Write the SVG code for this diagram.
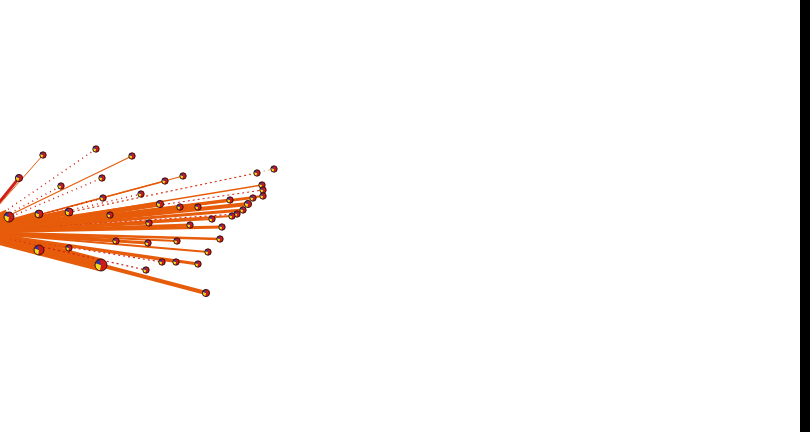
<svg xmlns="http://www.w3.org/2000/svg" width="810" height="432" viewBox="0 0 810 432">
<style>
.e{stroke:#e65c0a;fill:none;stroke-linecap:butt}
.r{stroke:#d0201a;fill:none}
.d{stroke-dasharray:2 3}
.f{stroke-dasharray:1 4}
</style>
<defs>
<g id="pie">
<circle r="1" fill="#cc1a1a"/>
<path d="M0 0 L-0.174 0.985 A1 1 0 0 1 -0.94 -0.342 Z" fill="#f2dc1e"/>
<path d="M0 0 L-0.94 -0.342 A1 1 0 0 1 -0.3 -0.954 Z" fill="#2a3aa0"/>
<circle r="1" fill="none" stroke="#2a0a0a" stroke-width="0.9" vector-effect="non-scaling-stroke"/>
</g>
</defs>
<rect width="810" height="432" fill="#fff"/>
<rect x="800" y="0" width="10" height="432" fill="#000"/>
<g id="connectors">
<line class="r" x1="-25" y1="232" x2="19" y2="178" stroke-width="3"/>
<line class="e" x1="-25" y1="232" x2="43" y2="155" stroke-width="1"/>
<line class="r f" x1="-25" y1="232" x2="96" y2="149" stroke-width="1.5"/>
<line class="e" x1="-25" y1="232" x2="132" y2="156" stroke-width="1.2"/>
<line class="r f" x1="-25" y1="232" x2="61" y2="186" stroke-width="1.5"/>
<line class="r f" x1="-25" y1="232" x2="102" y2="178" stroke-width="1.5"/>
<line class="e" x1="-25" y1="232" x2="165" y2="181" stroke-width="1.5"/>
<line class="e" x1="-25" y1="232" x2="183" y2="176" stroke-width="1.2"/>
<line class="r d" x1="-25" y1="232" x2="257" y2="173" stroke-width="1"/>
<line class="e f" x1="-25" y1="232" x2="274" y2="169" stroke-width="1"/>
<line class="e" x1="-25" y1="232" x2="262" y2="185" stroke-width="1.5"/>
<line class="r d" x1="-25" y1="232" x2="263" y2="190" stroke-width="1"/>
<line class="e" x1="-25" y1="232" x2="263" y2="196" stroke-width="2"/>
<line class="r f" x1="-25" y1="232" x2="141" y2="194" stroke-width="1.5"/>
<line class="r f" x1="-25" y1="232" x2="103" y2="198" stroke-width="1.5"/>
<line class="e" x1="-25" y1="232" x2="9" y2="217" stroke-width="16"/>
<line class="e" x1="-25" y1="232" x2="39" y2="214" stroke-width="6"/>
<line class="e" x1="-25" y1="232" x2="69" y2="212" stroke-width="6"/>
<line class="e" x1="-25" y1="232" x2="160" y2="204" stroke-width="5"/>
<line class="r d" x1="-25" y1="232" x2="180" y2="207" stroke-width="1.2"/>
<line class="e" x1="-25" y1="232" x2="198" y2="207" stroke-width="3"/>
<line class="e" x1="-25" y1="232" x2="230" y2="200" stroke-width="3"/>
<line class="e" x1="-25" y1="232" x2="248" y2="204" stroke-width="4"/>
<line class="e" x1="-25" y1="232" x2="253" y2="198" stroke-width="2"/>
<line class="e" x1="-25" y1="232" x2="243" y2="210" stroke-width="3"/>
<line class="r d" x1="-25" y1="232" x2="237" y2="214" stroke-width="1.2"/>
<line class="e" x1="-25" y1="232" x2="232" y2="216" stroke-width="2"/>
<line class="e" x1="-25" y1="232" x2="110" y2="215" stroke-width="4"/>
<line class="e" x1="-25" y1="232" x2="149" y2="223" stroke-width="3"/>
<line class="e" x1="-25" y1="232" x2="190" y2="225" stroke-width="3"/>
<line class="e" x1="-25" y1="232" x2="212" y2="219" stroke-width="2"/>
<line class="e" x1="-25" y1="232" x2="222" y2="227" stroke-width="3"/>
<line class="e" x1="-25" y1="232" x2="116" y2="241" stroke-width="3"/>
<line class="e" x1="-25" y1="232" x2="148" y2="243" stroke-width="3"/>
<line class="e" x1="-25" y1="232" x2="177" y2="241" stroke-width="2"/>
<line class="e" x1="-25" y1="232" x2="220" y2="239" stroke-width="2.5"/>
<line class="e" x1="-25" y1="232" x2="208" y2="252" stroke-width="2"/>
<line class="e" x1="-25" y1="232" x2="39" y2="250" stroke-width="10"/>
<line class="e" x1="-25" y1="232" x2="69" y2="248" stroke-width="3"/>
<line class="e" x1="-25" y1="232" x2="101" y2="265" stroke-width="13"/>
<line class="r d" x1="-25" y1="232" x2="146" y2="270" stroke-width="1.2"/>
<line class="r d" x1="-25" y1="232" x2="162" y2="262" stroke-width="1.2"/>
<line class="e" x1="-25" y1="232" x2="176" y2="262" stroke-width="2"/>
<line class="e" x1="-25" y1="232" x2="198" y2="264" stroke-width="3"/>
<line class="e" x1="-25" y1="232" x2="206" y2="293" stroke-width="4"/>
</g>
<g id="n1"><use href="#pie" transform="translate(43,155) scale(3.2)"/></g>
<g id="n2"><use href="#pie" transform="translate(96,149) scale(3.2)"/></g>
<g id="n3"><use href="#pie" transform="translate(132,156) scale(3.2)"/></g>
<g id="n4"><use href="#pie" transform="translate(19,178) scale(3.6)"/></g>
<g id="n5"><use href="#pie" transform="translate(61,186) scale(3.2)"/></g>
<g id="n6"><use href="#pie" transform="translate(102,178) scale(3.2)"/></g>
<g id="n7"><use href="#pie" transform="translate(165,181) scale(3.2)"/></g>
<g id="n8"><use href="#pie" transform="translate(183,176) scale(3.2)"/></g>
<g id="n9"><use href="#pie" transform="translate(257,173) scale(3.2)"/></g>
<g id="n10"><use href="#pie" transform="translate(274,169) scale(3.2)"/></g>
<g id="n11"><use href="#pie" transform="translate(262,185) scale(3.2)"/></g>
<g id="n12"><use href="#pie" transform="translate(263,190) scale(3.2)"/></g>
<g id="n13"><use href="#pie" transform="translate(263,196) scale(3.2)"/></g>
<g id="n14"><use href="#pie" transform="translate(141,194) scale(3.2)"/></g>
<g id="n15"><use href="#pie" transform="translate(103,198) scale(3.2)"/></g>
<g id="n16"><use href="#pie" transform="translate(9,217) scale(5)"/></g>
<g id="n17"><use href="#pie" transform="translate(39,214) scale(4)"/></g>
<g id="n18"><use href="#pie" transform="translate(69,212) scale(4)"/></g>
<g id="n19"><use href="#pie" transform="translate(160,204) scale(3.6)"/></g>
<g id="n20"><use href="#pie" transform="translate(180,207) scale(3.2)"/></g>
<g id="n21"><use href="#pie" transform="translate(198,207) scale(3.2)"/></g>
<g id="n22"><use href="#pie" transform="translate(230,200) scale(3.2)"/></g>
<g id="n23"><use href="#pie" transform="translate(248,204) scale(3.6)"/></g>
<g id="n24"><use href="#pie" transform="translate(253,198) scale(3.2)"/></g>
<g id="n25"><use href="#pie" transform="translate(243,210) scale(3.2)"/></g>
<g id="n26"><use href="#pie" transform="translate(237,214) scale(3.2)"/></g>
<g id="n27"><use href="#pie" transform="translate(232,216) scale(3.2)"/></g>
<g id="n28"><use href="#pie" transform="translate(110,215) scale(3.2)"/></g>
<g id="n29"><use href="#pie" transform="translate(149,223) scale(3.2)"/></g>
<g id="n30"><use href="#pie" transform="translate(190,225) scale(3.2)"/></g>
<g id="n31"><use href="#pie" transform="translate(212,219) scale(3.2)"/></g>
<g id="n32"><use href="#pie" transform="translate(222,227) scale(3.2)"/></g>
<g id="n33"><use href="#pie" transform="translate(116,241) scale(3.2)"/></g>
<g id="n34"><use href="#pie" transform="translate(148,243) scale(3.2)"/></g>
<g id="n35"><use href="#pie" transform="translate(177,241) scale(3.2)"/></g>
<g id="n36"><use href="#pie" transform="translate(220,239) scale(3.2)"/></g>
<g id="n37"><use href="#pie" transform="translate(208,252) scale(3.2)"/></g>
<g id="n38"><use href="#pie" transform="translate(39,250) scale(5)"/></g>
<g id="n39"><use href="#pie" transform="translate(69,248) scale(3.2)"/></g>
<g id="n40"><use href="#pie" transform="translate(101,265) scale(6)"/></g>
<g id="n41"><use href="#pie" transform="translate(146,270) scale(3.2)"/></g>
<g id="n42"><use href="#pie" transform="translate(162,262) scale(3.2)"/></g>
<g id="n43"><use href="#pie" transform="translate(176,262) scale(3.2)"/></g>
<g id="n44"><use href="#pie" transform="translate(198,264) scale(3.2)"/></g>
<g id="n45"><use href="#pie" transform="translate(206,293) scale(3.6)"/></g>
</svg>
